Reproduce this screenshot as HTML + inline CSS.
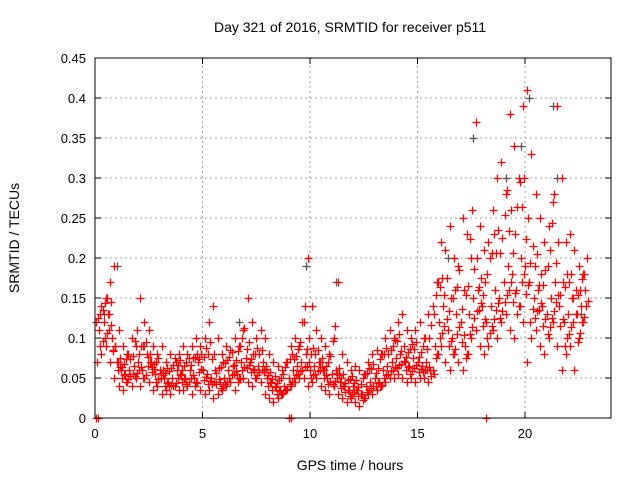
<!DOCTYPE html>
<html><head><meta charset="utf-8"><style>
html,body{margin:0;padding:0;background:#fff}
svg{display:block;font-family:"Liberation Sans",sans-serif}
</style></head><body>
<svg id="chart" width="640" height="480" viewBox="0 0 640 480" xmlns="http://www.w3.org/2000/svg">
<rect width="640" height="480" fill="#fff"/>
<text x="350" y="32" font-size="14" text-anchor="middle">Day 321 of 2016, SRMTID for receiver p511</text>
<g id="grid"></g>
<g id="marks"></g>
<rect x="95" y="58" width="516" height="360" fill="none" stroke="#000" stroke-width="1"/>
<g id="axes"></g>
<text x="350" y="470" font-size="14" text-anchor="middle">GPS time / hours</text>
<text x="0" y="0" font-size="14" text-anchor="middle" transform="translate(19,238) rotate(-90)">SRMTID / TECUs</text>
</svg>
<script>
const hours=[0.2,0.4,0.6,0.8,1.0,1.2,1.4,1.6,1.8,2.0,
2.2,2.4,2.6,2.8,3.0,3.2,3.4,3.6,3.8,4.0,
4.2,4.4,4.6,4.8,5.0,5.2,5.4,5.6,5.8,6.0,
6.2,6.4,6.6,6.8,7.0,7.2,7.4,7.6,7.8,8.0,
8.2,8.4,8.6,8.8,9.0,9.2,9.4,9.6,9.8,10.0,
10.2,10.4,10.6,10.8,11.0,11.2,11.4,11.6,11.8,12.0,
12.2,12.4,12.6,12.8,13.0,13.2,13.4,13.6,13.8,14.0,
14.2,14.4,14.6,14.8,15.0,15.2,15.4,15.6,15.8,16.0,
16.2,16.4,16.6,16.8,17.0,17.2,17.4,17.6,17.8,18.0,
18.2,18.4,18.6,18.8,19.0,19.2,19.4,19.6,19.8,20.0,
20.2,20.4,20.6,20.8,21.0,21.2,21.4,21.6,21.8,22.0,
22.2,22.4,22.6,22.8];
const valsMid=[0.11,0.12,0.13,0.10,0.07,0.06,0.055,0.06,0.065,0.07,
0.06,0.08,0.07,0.055,0.06,0.05,0.045,0.05,0.06,0.055,
0.05,0.06,0.05,0.07,0.06,0.055,0.05,0.06,0.045,0.05,
0.06,0.065,0.055,0.07,0.075,0.07,0.06,0.065,0.07,0.05,
0.045,0.04,0.035,0.04,0.05,0.06,0.065,0.07,0.08,0.06,
0.065,0.07,0.06,0.05,0.055,0.06,0.045,0.04,0.035,0.04,
0.035,0.03,0.04,0.045,0.05,0.045,0.06,0.065,0.07,0.075,
0.08,0.07,0.065,0.075,0.07,0.065,0.07,0.06,0.09,0.12,
0.14,0.11,0.10,0.13,0.12,0.09,0.13,0.15,0.16,0.14,
0.12,0.14,0.16,0.15,0.17,0.19,0.18,0.16,0.20,0.19,
0.17,0.15,0.16,0.14,0.13,0.15,0.17,0.14,0.12,0.13,
0.15,0.13,0.14,0.16];
const valsHigh=[0.14,0.15,0.17,0.19,0.11,0.09,0.08,0.10,0.09,0.15,
0.12,0.11,0.09,0.08,0.09,0.07,0.08,0.075,0.08,0.09,
0.08,0.09,0.10,0.09,0.10,0.12,0.14,0.10,0.08,0.09,
0.085,0.10,0.09,0.11,0.15,0.12,0.10,0.11,0.10,0.08,
0.07,0.065,0.06,0.07,0.09,0.10,0.09,0.12,0.20,0.14,
0.11,0.10,0.09,0.08,0.10,0.17,0.08,0.07,0.06,0.065,
0.06,0.055,0.07,0.08,0.085,0.08,0.10,0.11,0.10,0.12,
0.13,0.11,0.10,0.11,0.12,0.10,0.13,0.14,0.17,0.22,
0.21,0.24,0.20,0.19,0.25,0.23,0.20,0.37,0.24,0.21,
0.22,0.26,0.30,0.32,0.28,0.38,0.34,0.30,0.39,0.41,
0.33,0.28,0.25,0.22,0.24,0.27,0.39,0.30,0.22,0.23,
0.21,0.19,0.18,0.20];
const valsLow=[0.07,0.08,0.09,0.07,0.05,0.04,0.035,0.045,0.04,0.05,
0.04,0.05,0.045,0.035,0.04,0.03,0.035,0.03,0.04,0.035,
0.035,0.04,0.03,0.045,0.035,0.03,0.035,0.025,0.03,0.035,
0.04,0.045,0.035,0.05,0.05,0.045,0.04,0.05,0.045,0.03,
0.025,0.02,0.025,0.03,0.035,0.04,0.045,0.05,0.05,0.04,
0.045,0.05,0.04,0.035,0.03,0.04,0.03,0.025,0.02,0.025,
0.02,0.015,0.025,0.03,0.03,0.035,0.04,0.045,0.05,0.05,
0.055,0.05,0.045,0.05,0.045,0.05,0.05,0.045,0.06,0.08,
0.09,0.07,0.06,0.08,0.07,0.06,0.08,0.10,0.11,0.09,
0.08,0.09,0.11,0.10,0.12,0.13,0.11,0.10,0.14,0.12,
0.07,0.10,0.11,0.09,0.08,0.10,0.12,0.09,0.06,0.08,
0.09,0.06,0.10,0.12];
const grayHours=[0.4,1.0,2.3,6.7,9.8,11.2,16.4,17.6,19.1,19.8,20.2,21.3,21.5,22.6];
const grayVals=[0.13,0.19,0.09,0.12,0.19,0.17,0.20,0.35,0.30,0.34,0.40,0.39,0.30,0.13];
const zeroHours=[0.05,0.15,9.0,9.1,18.2];
const zeroVals=[0,0,0,0,0];
const xTicks=[0,5,10,15,20];
const yTicks=[0,0.05,0.1,0.15,0.2,0.25,0.3,0.35,0.4,0.45];
const yTickLabels=["0","0.05","0.1","0.15","0.2","0.25","0.3","0.35","0.4","0.45"];

const X0=95,X1=611,Y0=418,Y1=58,XMAX=24,YMAX=0.45;
const sx=v=>X0+v/XMAX*(X1-X0);
const sy=v=>Y0-v/YMAX*(Y0-Y1);
const NS="http://www.w3.org/2000/svg";
const grid=document.getElementById('grid'),axes=document.getElementById('axes'),marks=document.getElementById('marks');
function mk(t,a,p){const e=document.createElementNS(NS,t);for(const k in a)e.setAttribute(k,a[k]);p.appendChild(e);return e;}
xTicks.forEach(t=>{
  const x=sx(t);
  if(t>0){const g=mk('line',{x1:x,x2:x,y1:Y0,y2:Y1,stroke:'#a0a0a0','stroke-dasharray':'2,3'},grid);
  
  }
  const tk=mk('path',{d:`M${x},${Y0}v-6M${x},${Y1}v6`,stroke:'#000'},axes);
  
  
  const l=mk('text',{x:x,y:Y0+20,'font-size':13,'text-anchor':'middle'},axes);l.textContent=t;
  
  
});
yTicks.forEach((t,i)=>{
  const y=sy(t);
  if(t>0&&t<YMAX){const g=mk('line',{x1:X0,x2:X1,y1:y,y2:y,stroke:'#a0a0a0','stroke-dasharray':'2,3'},grid);
  
  }
  const tk=mk('path',{d:`M${X0},${y}h6M${X1},${y}h-6`,stroke:'#000'},axes);
  
  
  const l=mk('text',{x:X0-9,y:y+5,'font-size':13,'text-anchor':'end'},axes);l.textContent=yTickLabels[i];
  
  
});
function plus(h,v,color,name){
  const x=Math.round(sx(h))+0.5,y=Math.round(sy(v))+0.5;
  const p=mk('path',{d:`M${x-4},${y}h8M${x},${y-4}v8`,stroke:color,'stroke-width':1.3},marks);
  
  
}
grayHours.forEach((h,i)=>plus(h,grayVals[i],'#555','gray-point'));
hours.forEach((h,i)=>{
  plus(h,valsMid[i],'#ff0000','srmtid-point');
  plus(h+0.1,valsHigh[i],'#ff0000','srmtid-point');
  plus(h-0.1,valsLow[i],'#ff0000','srmtid-point');
  plus(h+0.05,(valsMid[i]+valsLow[i])/2,'#ff0000','srmtid-point');
  plus(h-0.05,(valsMid[i]+valsHigh[i])/2,'#ff0000','srmtid-point');
  plus(h+0.15,(2*valsMid[i]+valsLow[i])/3,'#ff0000','srmtid-point');
  plus(h-0.15,(2*valsMid[i]+valsHigh[i])/3,'#ff0000','srmtid-point');
});
zeroHours.forEach((h,i)=>plus(h,zeroVals[i],'#ff0000','zero-point'));
</script>
</body></html>
